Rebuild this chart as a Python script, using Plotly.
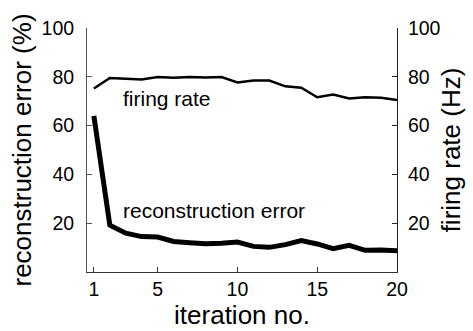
import plotly.graph_objects as go

iterations = list(range(1, 21))
firing_rate = [75.2, 79.5, 79.2, 78.9, 79.9, 79.6, 79.9, 79.7, 79.9, 77.7,
               78.5, 78.5, 76.1, 75.5, 71.6, 72.7, 71.1, 71.6, 71.4, 70.5]
recon_error = [64.0, 19.2, 15.9, 14.5, 14.3, 12.5, 12.0, 11.6, 11.8, 12.3,
               10.5, 10.1, 11.2, 12.9, 11.5, 9.6, 10.9, 8.9, 9.0, 8.7]
x_ticks = [1, 5, 10, 15, 20]
y_ticks = [20, 40, 60, 80, 100]

FONT = "Liberation Sans, Arial, Helvetica, sans-serif"

fig = go.Figure()
fig.add_trace(go.Scatter(x=iterations, y=recon_error, mode="lines",
                         line=dict(color="black", width=5), yaxis="y",
                         showlegend=False))
fig.add_trace(go.Scatter(x=iterations, y=firing_rate, mode="lines",
                         line=dict(color="black", width=2.5), yaxis="y2",
                         showlegend=False))

fig.add_annotation(x=2.72, y=71.2, xref="x", yref="y", text="firing rate",
                   showarrow=False, xanchor="left", yanchor="middle",
                   font=dict(size=21, color="black", family=FONT))
fig.add_annotation(x=2.72, y=25.2, xref="x", yref="y", text="reconstruction error",
                   showarrow=False, xanchor="left", yanchor="middle",
                   font=dict(size=21, color="black", family=FONT))

fig.update_layout(
    width=473, height=331,
    margin=dict(l=87, r=70, t=28, b=53),
    paper_bgcolor="white", plot_bgcolor="white",
    font=dict(family=FONT, color="black"),
    xaxis=dict(range=[0.57, 20], tickvals=x_ticks, ticks="inside", ticklen=5,
               tickcolor="#333", showline=True, linecolor="#333", linewidth=1,
               showgrid=False, zeroline=False, tickfont=dict(size=19.5),
               title=dict(text="iteration no.", font=dict(size=26), standoff=0)),
    yaxis=dict(range=[0, 100], tickvals=y_ticks, ticks="inside", ticklen=5,
               tickcolor="#555", showline=True, linecolor="#555", linewidth=1,
               showgrid=False, zeroline=False, tickfont=dict(size=19.5),
               ticklabelstandoff=8,
               title=dict(text="reconstruction error (%)", font=dict(size=26), standoff=2)),
    yaxis2=dict(range=[0, 100], tickvals=y_ticks, ticks="inside", ticklen=5,
                overlaying="y", side="right",
                tickcolor="#222", showline=True, linecolor="#222", linewidth=1,
                showgrid=False, zeroline=False, tickfont=dict(size=19.5),
                ticklabelstandoff=6,
                title=dict(text="firing rate (Hz)", font=dict(size=26), standoff=2)),
)

fig.write_html("out.html")
